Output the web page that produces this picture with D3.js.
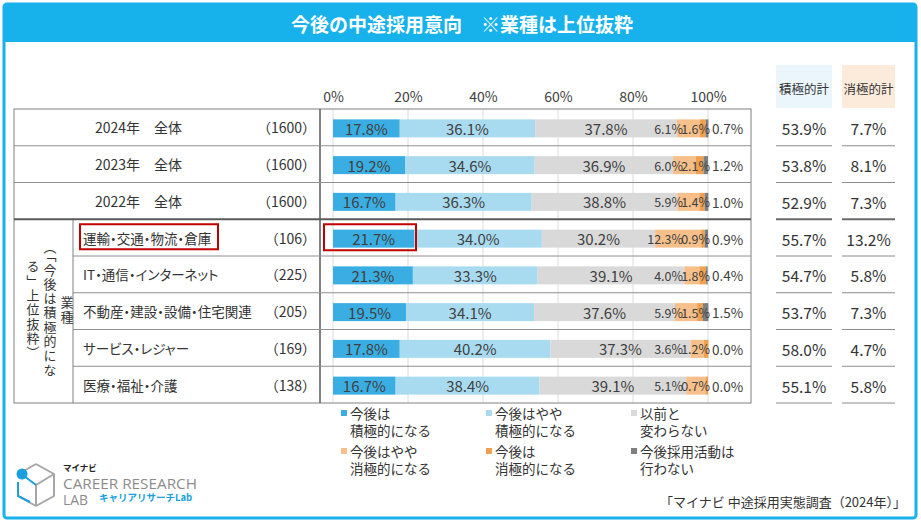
<!DOCTYPE html>
<html><head><meta charset="utf-8">
<script src="https://cdn.jsdelivr.net/npm/d3@7"></script>
<style>
html,body{margin:0;padding:0;background:#fff;}
svg{display:block;font-family:"Noto Sans CJK JP","Noto Sans",sans-serif;}
.palt{font-feature-settings:"palt" 1;}
.vert{writing-mode:vertical-rl;}
</style></head>
<body><svg id="c" width="921" height="524"></svg>
<script>
// ---------- data ----------
const categories = ["2024年　全体","2023年　全体","2022年　全体","運輸・交通・物流・倉庫","IT・通信・インターネット","不動産・建設・設備・住宅関連","サービス・レジャー","医療・福祉・介護"];
const sampleN = [1600,1600,1600,106,225,205,169,138];
const seriesNames = ["今後は\n積極的になる","今後はやや\n積極的になる","以前と\n変わらない","今後はやや\n消極的になる","今後は\n消極的になる","今後採用活動は\n行わない"];
const sPositive  = [17.8,19.2,16.7,21.7,21.3,19.5,17.8,16.7];
const sSomePos   = [36.1,34.6,36.3,34.0,33.3,34.1,40.2,38.4];
const sSame      = [37.8,36.9,38.8,30.2,39.1,37.6,37.3,39.1];
const sSomeNeg   = [6.1,6.0,5.9,12.3,4.0,5.9,3.6,5.1];
const sNegative  = [1.6,2.1,1.4,0.9,1.8,1.5,1.2,0.7];
const sNone      = [0.7,1.2,1.0,0.9,0.4,1.5,0.0,0.0];
const posTotal   = [53.9,53.8,52.9,55.7,54.7,53.7,58.0,55.1];
const negTotal   = [7.7,8.1,7.3,13.2,5.8,7.3,4.7,5.8];
const tickValues = [0,20,40,60,80,100];
const title = "今後の中途採用意向　※業種は上位抜粋";
const groupLabelCols = ["業種","（「今後は積極的にな","る」上位抜粋）"];
const highlightIndex = 3;
const source = "「マイナビ 中途採用実態調査（2024年）」";

const colors = ["#3aaee2","#a9dbf0","#d9d9d9","#f7c08a","#f0a04f","#7f7f7f"];
const series = [sPositive,sSomePos,sSame,sSomeNeg,sNegative,sNone];

// ---------- layout ----------
const svg = d3.select("#c");
const tableL = 14, tableR = 751, divX = 320, subX = 73;
const x = d3.scaleLinear().domain([0,100]).range([333,708]);
const y = d3.scaleBand().domain(categories).range([109,403]).padding(0);
const barH = 18;
const blue = "#17b2ec";

// frame + header
svg.append("rect").attr("x",4).attr("y",4).attr("width",912).attr("height",514)
  .attr("rx",3).attr("fill","#fff").attr("stroke",blue).attr("stroke-width",3);
svg.append("rect").attr("x",4).attr("y",4).attr("width",912).attr("height",38).attr("fill",blue);
svg.append("text").attr("x",462).attr("y",23).attr("text-anchor","middle")
  .attr("dominant-baseline","central").attr("fill","#fff").attr("font-size",19)
  .attr("font-weight","bold").text(title);

// grid lines
svg.append("g").selectAll("line").data(tickValues).join("line")
  .attr("x1",d=>x(d)).attr("x2",d=>x(d)).attr("y1",109).attr("y2",403)
  .attr("stroke","#dcdcdc").attr("stroke-width",1);

// axis tick labels
const axis = svg.append("g").attr("transform","translate(0,102)")
  .call(d3.axisTop(x).tickValues(tickValues).tickFormat(d=>d+"%").tickSize(0).tickPadding(0));
axis.select(".domain").remove();
axis.selectAll("text").attr("font-size",14).attr("fill","#404040")
  .attr("font-family","'Noto Sans CJK JP',sans-serif");

// stacked data
const rows = categories.map((c,i)=>{
  let cum=0;
  return series.map((s,k)=>{const v=s[i]; const seg={cat:c,k,v,x0:cum,x1:cum+v}; cum+=v; return seg;});
});

// bars
const gBars = svg.append("g");
rows.forEach(r=>{
  gBars.selectAll(null).data(r).join("rect")
    .attr("x",d=>x(d.x0)).attr("width",d=>Math.max(0,x(d.x1)-x(d.x0)))
    .attr("y",d=>y(d.cat)+y.bandwidth()/2-barH/2+1).attr("height",barH)
    .attr("fill",d=>colors[d.k]);
});

// bar labels
const gLab = svg.append("g").attr("fill","#404040");
rows.forEach(r=>{
  gLab.selectAll(null).data(r).join("text")
    .attr("y",d=>y(d.cat)+y.bandwidth()/2+1)
    .attr("dominant-baseline","central")
    .attr("font-size",d=>d.k<3?15:(d.k===5?13.5:12.5))
    .attr("text-anchor",d=>d.k===5?"start":(d.k<3?"middle":"end"))
    .attr("x",d=>{
      const c=(x(d.x0)+x(d.x1))/2;
      if(d.k<3) return c;
      if(d.k===3) return x(100)-25;
      if(d.k===4) return x(100)+2;
      return x(100)+4;
    })
    .text(d=>d.v.toFixed(1)+"%");
});

// table lines
const gT = svg.append("g").attr("fill","none");
gT.append("rect").attr("x",tableL).attr("y",109).attr("width",tableR-tableL).attr("height",294)
  .attr("stroke","#808080").attr("stroke-width",1);
gT.append("line").attr("x1",divX).attr("x2",divX).attr("y1",109).attr("y2",403)
  .attr("stroke","#5a5a5a").attr("stroke-width",1.5);
gT.append("line").attr("x1",subX).attr("x2",subX).attr("y1",y(categories[3])).attr("y2",403)
  .attr("stroke","#808080");
categories.slice(1).forEach((c,i)=>{
  const idx=i+1, yy=y(c);
  const thick = idx===3;
  gT.append("line").attr("x1",idx>3?subX:tableL).attr("x2",tableR).attr("y1",yy).attr("y2",yy)
    .attr("stroke",thick?"#5a5a5a":"#909090").attr("stroke-width",thick?2:1);
});

// row labels
const gL = svg.append("g").attr("fill","#333");
categories.forEach((c,i)=>{
  const cy=y(c)+y.bandwidth()/2;
  gL.append("text").attr("class",i<3?null:"palt").attr("x",i<3?95:83).attr("y",cy).attr("dominant-baseline","central")
    .attr("font-size",i<3?14:13.5).text(c);
  gL.append("text").attr("x",316).attr("y",cy).attr("dominant-baseline","central")
    .attr("text-anchor","end").attr("font-size",14).text("（"+sampleN[i]+"）");
});

// vertical group label (one vertical text per column)
const colX=[67,50,33], colStart=[296,241,260];
groupLabelCols.forEach((s,ci)=>{
  gL.append("text").attr("class","vert").attr("x",colX[ci]).attr("y",colStart[ci])
    .attr("font-size",13).attr("letter-spacing",1.3).text(s);
});

// highlight boxes
const hy=y(categories[highlightIndex]);
svg.append("rect").attr("x",80).attr("y",hy+5).attr("width",138).attr("height",25)
  .attr("fill","none").attr("stroke","#c00000").attr("stroke-width",2);
svg.append("rect").attr("x",324).attr("y",hy+5).attr("width",92).attr("height",26)
  .attr("fill","none").attr("stroke","#c00000").attr("stroke-width",2);

// right summary columns
const cols=[{x0:776,x1:832,bg:"#eaf5fc",label:"積極的計",vals:posTotal},
            {x0:842,x1:895,bg:"#fcebdb",label:"消極的計",vals:negTotal}];
cols.forEach(col=>{
  const cx=(col.x0+col.x1)/2;
  svg.append("rect").attr("x",col.x0).attr("y",65).attr("width",col.x1-col.x0).attr("height",43).attr("fill",col.bg);
  svg.append("text").attr("x",cx).attr("y",88).attr("text-anchor","middle")
    .attr("dominant-baseline","central").attr("font-size",12.5).attr("fill","#333").text(col.label);
  categories.forEach((c,i)=>{
    svg.append("text").attr("x",cx).attr("y",y(c)+y.bandwidth()/2+1).attr("text-anchor","middle")
      .attr("dominant-baseline","central").attr("font-size",15.5).attr("fill","#333")
      .text(col.vals[i].toFixed(1)+"%");
    const yy=y(c)+y.bandwidth();
    const thick=i===2;
    svg.append("line").attr("x1",col.x0).attr("x2",col.x1).attr("y1",yy).attr("y2",yy)
      .attr("stroke",thick?"#6a6a6a":"#8c8c8c").attr("stroke-width",thick?2:1);
  });
});

// legend
const legPos=[[343,413],[488,413],[633,413],[343,451],[488,451],[633,451]];
const gLeg=svg.append("g");
seriesNames.forEach((name,k)=>{
  const [lx,ly]=legPos[k];
  gLeg.append("rect").attr("x",lx-2).attr("y",ly-3).attr("width",6).attr("height",6).attr("fill",colors[k]);
  name.split("\n").forEach((ln,j)=>{
    gLeg.append("text").attr("x",lx+7).attr("y",ly+j*17).attr("dominant-baseline","central")
      .attr("font-size",13.5).attr("fill","#333").text(ln);
  });
});

// source
svg.append("text").attr("x",906).attr("y",501).attr("text-anchor","end")
  .attr("dominant-baseline","central").attr("font-size",13).attr("fill","#333").text(source);

// logo
const lg=svg.append("g");
lg.append("path").attr("d","M36,464 L54,474 L54,496 L36,506 M36,506 L18,496 M36,464 L20,473 M36,485 L54,474 M36,485 L36,506")
  .attr("fill","none").attr("stroke","#a6a6a6").attr("stroke-width",2);
lg.append("path").attr("d","M24,476 L36,485 M18,482 L18,496 L30,502")
  .attr("fill","none").attr("stroke","#1a9fdc").attr("stroke-width",2);
lg.append("circle").attr("cx",22).attr("cy",474).attr("r",5.5).attr("fill","#1a9fdc");
lg.append("text").attr("x",63).attr("y",467).attr("dominant-baseline","central").attr("font-size",8.5)
  .attr("font-weight","bold").attr("fill","#222").text("マイナビ");
lg.append("text").attr("x",63).attr("y",489).attr("font-size",15).attr("fill","#8c8c8c")
  .attr("textLength",134).attr("lengthAdjust","spacingAndGlyphs").attr("font-family","'Open Sans',sans-serif").text("CAREER RESEARCH");
lg.append("text").attr("x",63).attr("y",505).attr("font-size",15).attr("fill","#8c8c8c")
  .attr("textLength",25).attr("lengthAdjust","spacingAndGlyphs").attr("font-family","'Open Sans',sans-serif").text("LAB");
lg.append("text").attr("x",99).attr("y",501).attr("font-size",9.5).attr("font-weight","bold")
  .attr("fill","#1a9fdc").text("キャリアリサーチLab");
</script></body></html>
